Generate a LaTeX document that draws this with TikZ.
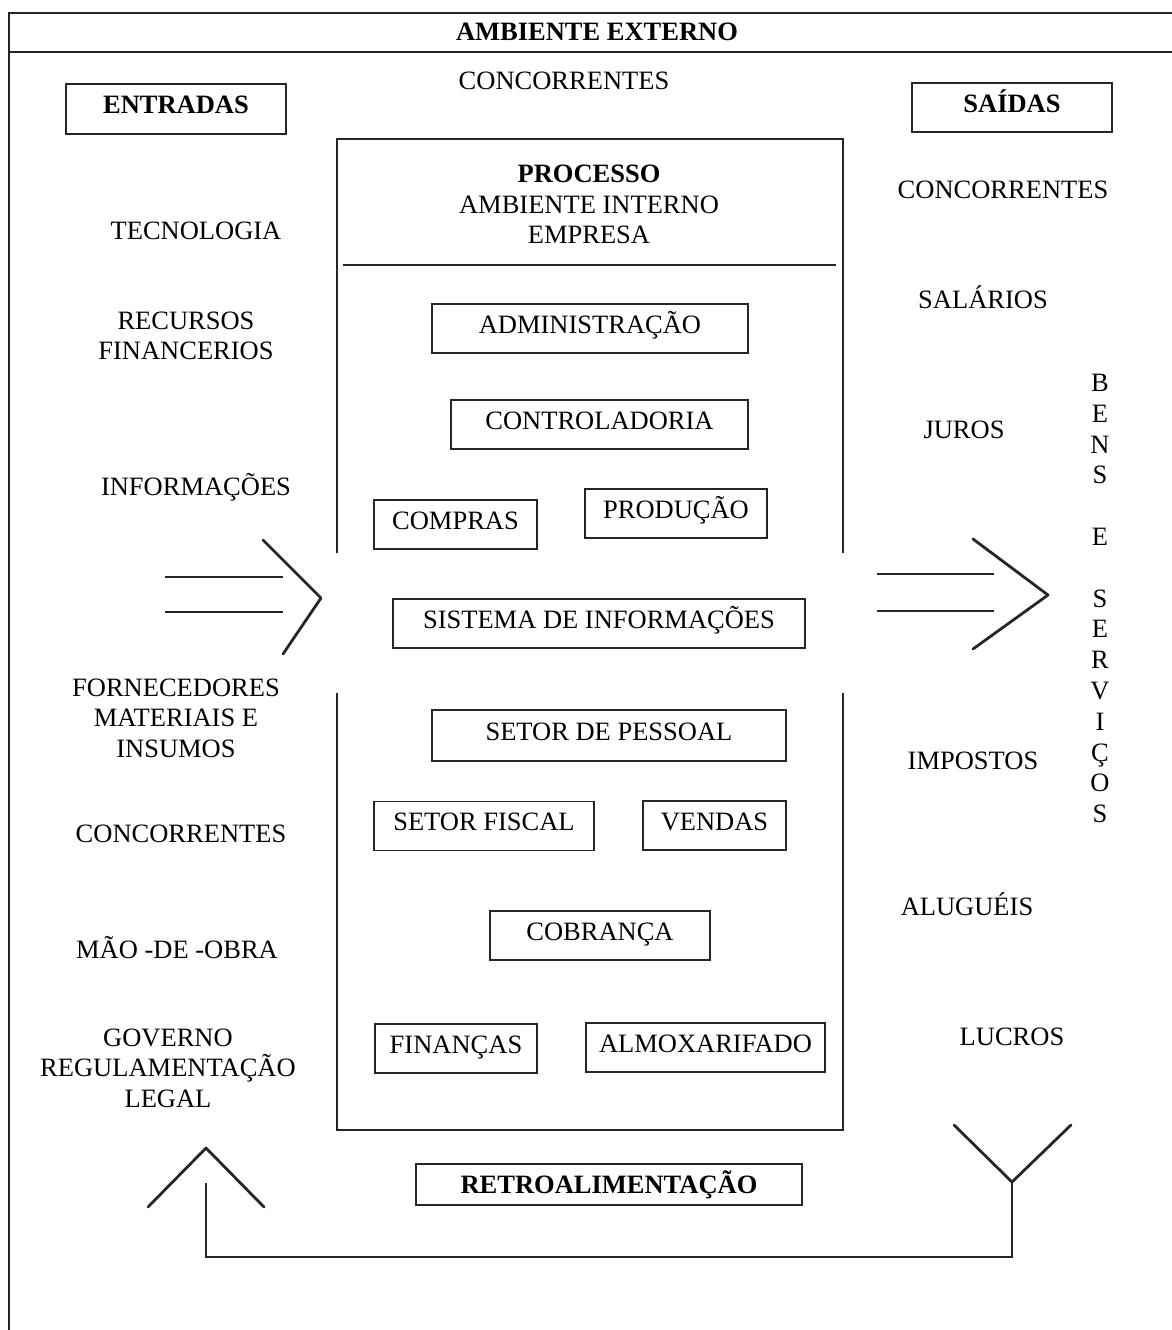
\documentclass[tikz,border=0pt]{standalone}
\usepackage{fontspec}
\setmainfont{Liberation Serif}
\tikzset{
    %Traço padrão
    linha/.style={
           draw=black!85,
           line width=1.8pt},
    %Caixas dos setores
    caixa/.style={
           rectangle,
           draw=black!85, line width=1.8pt,
           minimum height=49pt,
           text height=18pt,
           text depth=8.5pt,
           inner sep=0pt},
    %Textos soltos
    rotulo/.style={
           align=center,
           inner sep=0pt},
    %Pontas das setas largas
    seta/.style={
           draw=black!85,
           line width=2.8pt,
           line cap=round,
           line join=round}
}

\begin{document}
\begin{tikzpicture}[x=1pt, y=-1pt, font=\fontsize{26.5}{30.5}\selectfont]
		\useasboundingbox (0,0) rectangle (1172,1330);
		% moldura externa
		\draw[linha] (1172,13) -- (9,13) -- (9,1330);
		\draw[linha] (9,52) -- (1172,52);
		\node[rotulo, anchor=base] (externo) at (597,41) {\textbf{AMBIENTE EXTERNO}};
		\node[rotulo, anchor=base] (concTopo) at (564,89) {CONCORRENTES};
		\node[caixa, minimum width=220pt, minimum height=50pt] (entradas) at (176,109) {\textbf{ENTRADAS}};
		\node[caixa, minimum width=200pt] (saidas) at (1012,107.5) {\textbf{SAÍDAS}};
		% processo (ambiente interno)
		\draw[linha] (337,553) -- (337,139) -- (843,139) -- (843,553);
		\draw[linha] (337,693) -- (337,1130) -- (843,1130) -- (843,693);
		\draw[linha] (343,265) -- (836,265);
		\node[rotulo] (processo) at (589,204.5) {\textbf{PROCESSO}\\AMBIENTE INTERNO\\EMPRESA};
		\node[caixa, minimum width=316pt] (adm) at (590,328.5) {ADMINISTRAÇÃO};
		\node[caixa, minimum width=297pt] (ctrl) at (599.5,424.5) {CONTROLADORIA};
		\node[caixa, minimum width=163pt] (compras) at (455.5,524.5) {COMPRAS};
		\node[caixa, minimum width=182pt] (producao) at (676,513.5) {PRODUÇÃO};
		\node[caixa, minimum width=412pt] (sistema) at (599,623.5) {SISTEMA DE INFORMAÇÕES};
		\node[caixa, minimum width=354pt, minimum height=51pt] (pessoal) at (609,735.5) {SETOR DE PESSOAL};
		\node[caixa, minimum width=220pt] (fiscal) at (484,826) {SETOR FISCAL};
		\node[caixa, minimum width=143pt] (vendas) at (714.5,825.5) {VENDAS};
		\node[caixa, minimum width=220pt] (cobranca) at (600,935.5) {COBRANÇA};
		\node[caixa, minimum width=162pt] (financas) at (456,1048.5) {FINANÇAS};
		\node[caixa, minimum width=239pt] (almox) at (705.5,1047.5) {ALMOXARIFADO};
		% entradas
		\node[rotulo, anchor=base] (tecnologia) at (196,239) {TECNOLOGIA};
		\node[rotulo] (recursos) at (186,336) {RECURSOS\\FINANCERIOS};
		\node[rotulo, anchor=base] (informacoes) at (196,495) {INFORMAÇÕES};
		\node[rotulo] (fornecedores) at (176,718) {FORNECEDORES\\MATERIAIS E\\INSUMOS};
		\node[rotulo, anchor=base] (concEsq) at (181,842) {CONCORRENTES};
		\node[rotulo, anchor=base] (maodeobra) at (177,958) {MÃO -DE -OBRA};
		\node[rotulo] (governo) at (168,1068) {GOVERNO\\REGULAMENTAÇÃO\\LEGAL};
		% saidas
		\node[rotulo, anchor=base] (concDir) at (1003,198) {CONCORRENTES};
		\node[rotulo, anchor=base] (salarios) at (983,308) {SALÁRIOS};
		\node[rotulo, anchor=base] (juros) at (964,438) {JUROS};
		\node[rotulo, anchor=base] (impostos) at (973,769) {IMPOSTOS};
		\node[rotulo, anchor=base] (alugueis) at (967,915) {ALUGUÉIS};
		\node[rotulo, anchor=base] (lucros) at (1012,1045) {LUCROS};
		\node[rotulo, font=\fontsize{26.5}{30.8}\selectfont] (bens) at (1100,598.5)
			{B\\E\\N\\S\\~\\E\\~\\S\\E\\R\\V\\I\\Ç\\O\\S};
		% setas largas
		\draw[linha] (165,577) -- (283,577);
		\draw[linha] (165,612) -- (283,612);
		\draw[seta] (263,540) -- (321,598) -- (283,654);
		\draw[linha] (877,574) -- (994,574);
		\draw[linha] (877,611) -- (994,611);
		\draw[seta] (973,539) -- (1048,595) -- (973,649);
		% retroalimentacao
		\node[caixa, minimum width=386pt, minimum height=41pt, text height=18pt, text depth=1pt] (retro) at (609,1184.5) {\textbf{RETROALIMENTAÇÃO}};
		\coordinate (retSaida) at (1012,1182);
		\coordinate (retEntrada) at (206,1183);
		\draw[linha] (retSaida) -- ++(0,75) -| (retEntrada);
		\draw[seta] (954,1125) -- (retSaida) -- (1071,1125);
		\draw[seta] (148,1207) -- (206,1148) -- (264,1207);
\end{tikzpicture}
\end{document}
